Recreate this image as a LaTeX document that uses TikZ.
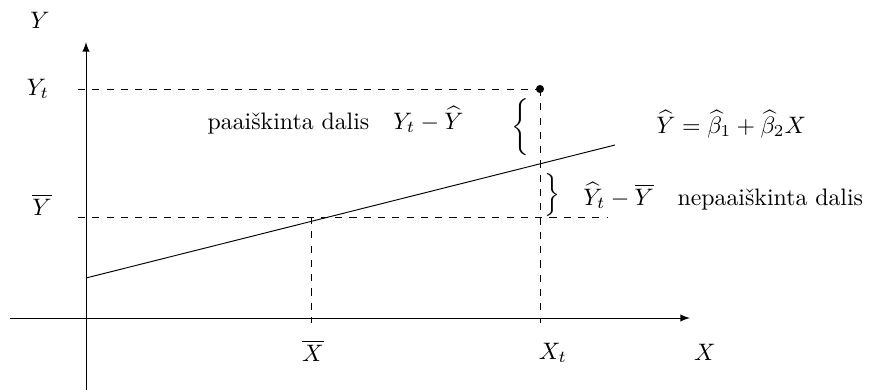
\documentclass[tikz,border=0pt]{standalone}
\usepackage{amsmath}
\usepackage{tikz}
\usetikzlibrary{arrows,positioning,calc}

\begin{document}
\begin{tikzpicture}[x=4.2pt,y=4.2pt,>=latex]
    \useasboundingbox (-8.6,-7.2) rectangle (79.0,31.8);

    % key points
    \coordinate (xl) at (-7.6,0);
    \coordinate (xr) at (60.4,0);
    \coordinate (yb) at (0,-7.2);
    \coordinate (yt) at (0,27.6);
    \coordinate (pt) at (45.4,22.9);
    \coordinate (yts) at (-0.8,22.9);
    \coordinate (ybs) at (-0.8,10.1);
    \coordinate (ybe) at (52.2,10.1);
    \coordinate (xbt) at (22.5,10.1);
    \coordinate (xbb) at (22.5,-0.5);
    \coordinate (xtb) at (45.4,-0.5);
    \coordinate (fa) at (0,4.0);
    \coordinate (fb) at (52.9,17.3);

    % axes
    \draw[->] (xl) -- (xr);
    \draw[->] (yb) -- (yt);
    \node (ylab) at (-4.6,29.8) {$Y$};
    \node (xlab) at (61.9,-3.4) {$X$};

    % averages and observed point
    \draw[dashed] (yts) -- (pt);
    \draw[dashed] (ybs) -- (ybe);
    \draw[dashed] (xbt) -- (xbb);
    \draw[dashed] (pt) -- (xtb);
    \fill (pt) circle (1.7pt);
    \node (ytlab) at (-4.8,22.9) {$Y_t$};
    \node (yblab) at (-4.4,11.3) {$\overline{Y}$};
    \node (xblab) at (22.7,-3.3) {$\overline{X}$};
    \node (xtlab) at (46.7,-3.5) {$X_t$};

    % regression line
    \draw (fa) -- (fb);
    \node[right] (eq) at (56.2,19.4) {$\widehat{Y}=\widehat{\beta}_1+\widehat{\beta}_2X$};

    % explained / unexplained parts
    \node (lbr) at (43.4,19.1) {$\bigg\{$};
    \node[left] (expl) at (38.6,19.8) {paai\v{s}kinta dalis\quad $Y_t-\widehat{Y}$};
    \node (rbr) at (46.6,12.3) {$\Big\}$};
    \node[right] (unexpl) at (48.9,12.2) {$\widehat{Y}_t-\overline{Y}$\quad nepaai\v{s}kinta dalis};
\end{tikzpicture}
\end{document}
